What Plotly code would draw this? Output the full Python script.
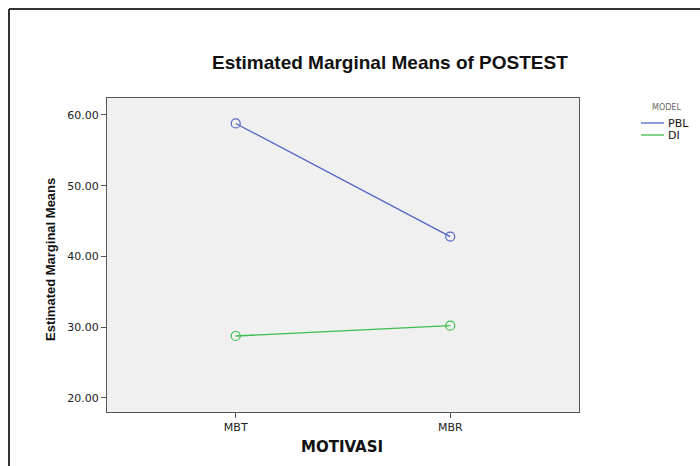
import plotly.graph_objects as go

categories = ["MBT", "MBR"]
pbl = [58.8, 42.8]
di = [28.75, 30.2]
series_names = ["PBL", "DI"]
colors = ["#5467c6", "#3dbd4e"]
yticks = [20, 30, 40, 50, 60]
ytick_labels = ["20.00", "30.00", "40.00", "50.00", "60.00"]

W, H = 700, 466
L, R, T, B = 107, 121, 98, 54
pw, ph = W - L - R, H - T - B

def px(x):
    return (x - L) / pw

def py(y):
    return (H - B - y) / ph

TICKFONT = "DejaVu Sans, Liberation Sans, sans-serif"

fig = go.Figure()
for name, vals, c in zip(series_names, [pbl, di], colors):
    fig.add_trace(go.Scatter(
        x=categories, y=vals, mode="lines+markers", name=name,
        line=dict(color=c, width=1.3),
        marker=dict(symbol="circle-open", size=9, color=c, line=dict(width=1.2)),
        showlegend=False, hoverinfo="x+y+name"))

shapes = [
    dict(type="line", xref="paper", yref="paper", x0=px(9), x1=px(9), y0=py(9), y1=py(480),
         line=dict(color="#333333", width=2)),
    dict(type="line", xref="paper", yref="paper", x0=px(9), x1=px(720), y0=py(9), y1=py(9),
         line=dict(color="#333333", width=2)),
]
annotations = [
    dict(text="<b>Estimated Marginal Means of POSTEST</b>", xref="paper", yref="paper",
         x=px(390), y=py(62), showarrow=False, font=dict(size=19, color="#111111",
         family="Liberation Sans, Arial, sans-serif"), xanchor="center", yanchor="middle"),
    dict(text="<b>MOTIVASI</b>", xref="paper", yref="paper",
         x=px(342), y=py(447), showarrow=False, font=dict(size=15, color="#111111",
         family=TICKFONT), xanchor="center", yanchor="middle"),
    dict(text="<b>Estimated Marginal Means</b>", xref="paper", yref="paper",
         x=px(50), y=py(260), showarrow=False, textangle=-90,
         font=dict(size=13, color="#111111",
                   family="Liberation Sans, Arial, sans-serif"),
         xanchor="center", yanchor="middle"),
    dict(text="MODEL", xref="paper", yref="paper", x=px(650), y=py(107), showarrow=False,
         font=dict(size=8, color="#666666", family=TICKFONT), xanchor="left",
         yanchor="middle"),
]
leg_y = [123, 135]
for name, c, yy in zip(series_names, colors, leg_y):
    shapes.append(dict(type="line", xref="paper", yref="paper", x0=px(641), x1=px(664),
                       y0=py(yy), y1=py(yy), line=dict(color=c, width=1.3)))
    annotations.append(dict(text=name, xref="paper", yref="paper", x=px(666), y=py(yy),
                            showarrow=False, xanchor="left", yanchor="middle",
                            font=dict(size=11, color="#111111", family=TICKFONT)))

fig.update_layout(
    width=W, height=H, margin=dict(l=L, r=R, t=T, b=B),
    paper_bgcolor="white", plot_bgcolor="#f0f0f0",
    font=dict(family=TICKFONT, size=11, color="#222222"),
    shapes=shapes, annotations=annotations, showlegend=False,
)
fig.update_xaxes(
    type="category", range=[-0.6, 1.6], showgrid=False, zeroline=False,
    showline=True, linecolor="#555555", linewidth=1, mirror=True,
    ticks="outside", ticklen=5, tickcolor="#555555",
    tickfont=dict(size=11, family=TICKFONT),
)
fig.update_yaxes(
    range=[18.0, 62.4], tickvals=yticks, ticktext=ytick_labels, showgrid=False,
    zeroline=False, showline=True, linecolor="#555555", linewidth=1, mirror=True,
    ticks="outside", ticklen=5, tickcolor="#555555", tickfont=dict(size=11, family=TICKFONT),
)
fig.write_html("out.html", config={"displayModeBar": False},
               post_script="document.body.style.margin='0';")
